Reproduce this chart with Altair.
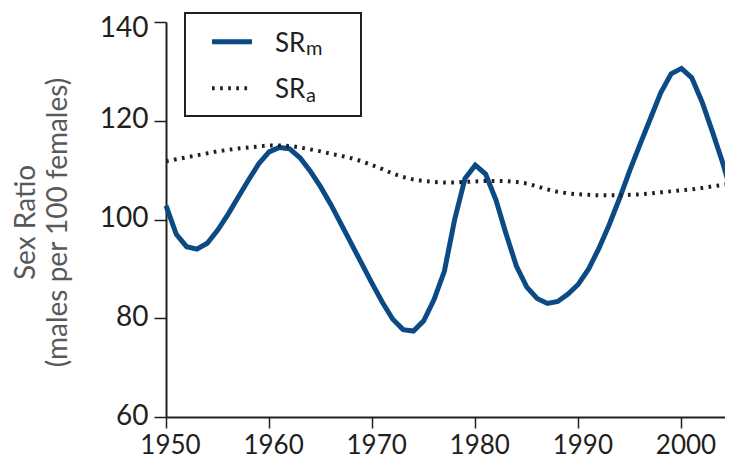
import altair as alt
import pandas as pd

years = list(range(1950, 2006))
sr_m = [102.8, 97.0, 94.5, 94.0, 95.2, 97.8, 101.0, 104.5, 108.0, 111.3,
        113.7, 114.6, 114.3, 112.5, 109.8, 106.6, 103.0, 99.0, 95.0, 91.0,
        87.0, 83.2, 79.8, 77.7, 77.4, 79.5, 83.8, 89.5, 100.0, 108.3,
        111.0, 109.2, 104.0, 97.0, 90.5, 86.3, 84.0, 83.0, 83.4, 84.9,
        86.9, 90.0, 94.2, 99.0, 104.3, 110.0, 115.3, 120.5, 125.7, 129.5,
        130.6, 128.7, 123.8, 117.8, 111.5, 104.4]
sr_a = [111.8, 112.2, 112.6, 113.0, 113.4, 113.8, 114.1, 114.4, 114.6, 114.8,
        115.0, 115.0, 114.9, 114.6, 114.2, 113.8, 113.3, 112.9, 112.4, 111.8,
        111.0, 110.2, 109.3, 108.6, 108.1, 107.8, 107.6, 107.5, 107.5, 107.6,
        107.7, 107.8, 107.8, 107.8, 107.6, 107.3, 106.7, 106.1, 105.6, 105.3,
        105.1, 105.0, 104.9, 104.9, 104.9, 105.0, 105.1, 105.3, 105.5, 105.7,
        105.9, 106.1, 106.4, 106.7, 107.0, 107.3]
legend_main = ["SR", "SR"]
legend_sub = ["m", "a"]
x_ticks = [1950, 1960, 1970, 1980, 1990, 2000]
y_ticks = [60, 80, 100, 120, 140]
y_title = ["Sex Ratio", "(males per 100 females)"]

BLUE = "#0b4a84"
INK = "#231f20"
FONT = "Lato"
TOP = 14
H = 395

df_m = pd.DataFrame({"year": years, "value": sr_m})
df_a = pd.DataFrame({"year": years, "value": sr_a})

x_enc = alt.X("year:Q",
              scale=alt.Scale(domain=[1950, 2005], nice=False, zero=False),
              axis=alt.Axis(values=x_ticks, format="d", title=None,
                            labelFlush=False, labelFontSize=26, tickSize=11,
                            labelPadding=4, labelOffset=4))
y_enc = alt.Y("value:Q",
              scale=alt.Scale(domain=[60, 140], nice=False, zero=False),
              axis=alt.Axis(values=y_ticks, title=y_title,
                            labelPadding=6,
                            labelOffset={"condition": {"test": "datum.value == 140",
                                                       "value": 6.5},
                                         "value": -1},
                            labelFontSize=28,
                            tickSize=12,
                            titleX=-154, titleY=200, titleAlign="center",
                            titleBaseline="top", titleLineHeight=32,
                            titleFontSize=28, titleFont=FONT,
                            titleFontWeight="normal", titleColor="#58595b"))

line_m = alt.Chart(df_m).mark_line(color=BLUE, strokeWidth=5).encode(x=x_enc, y=y_enc)
line_a = alt.Chart(df_a).mark_line(color=INK, strokeWidth=4,
                                   strokeDash=[2.7, 5.4]).encode(x=x_enc, y=y_enc)

one = pd.DataFrame({"k": [0]})
box = alt.Chart(one).mark_rect(fill="white", stroke=INK, strokeWidth=2).encode(
    x=alt.value(19), x2=alt.value(195), y=alt.value(-9), y2=alt.value(94))
leg_m = alt.Chart(one).mark_rule(color=BLUE, strokeWidth=5).encode(
    x=alt.value(46), x2=alt.value(86), y=alt.value(19.7))
leg_a = alt.Chart(one).mark_rule(color=INK, strokeWidth=4, strokeDash=[2.7, 5.4]).encode(
    x=alt.value(46), x2=alt.value(86), y=alt.value(66.3))

def label(main, sub, yb):
    d = pd.DataFrame({"main": [main], "sub": [sub]})
    t1 = alt.Chart(d).mark_text(align="left", baseline="alphabetic", fontSize=26,
                                font=FONT, color=INK).encode(
        x=alt.value(109), y=alt.value(yb), text="main:N")
    t2 = alt.Chart(d).mark_text(align="left", baseline="alphabetic", fontSize=20,
                                font=FONT, color=INK).encode(
        x=alt.value(140), y=alt.value(yb + 3.5), text="sub:N")
    return t1 + t2

chart = alt.layer(line_m, line_a, box, leg_m, leg_a,
                  label(legend_main[0], legend_sub[0], 29.7),
                  label(legend_main[1], legend_sub[1], 76.3)).properties(
    width=567, height=H,
    autosize=alt.AutoSizeParams(type="none"),
    padding={"left": 158, "top": TOP, "right": -8, "bottom": 42},
).configure_axis(
    domainColor=INK, domainWidth=2, tickColor=INK, tickWidth=1.5,
    labelFont=FONT, labelColor=INK, grid=False,
).configure_view(stroke=None)

chart.save("out.html", embed_options={"renderer": "svg", "actions": False})
